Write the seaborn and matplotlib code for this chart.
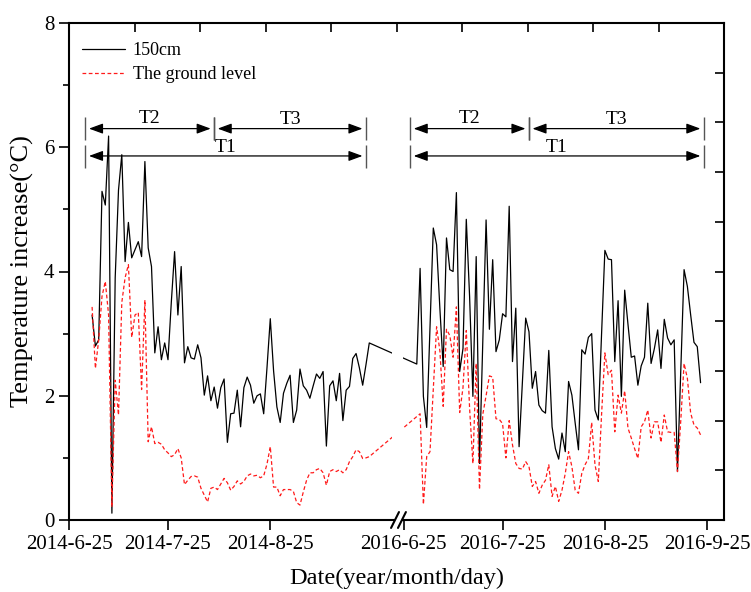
import numpy as np
import pandas as pd
import matplotlib
matplotlib.use("Agg")
import matplotlib.pyplot as plt
import seaborn as sns
from matplotlib.transforms import blended_transform_factory
from matplotlib.ticker import NullLocator

# ---------------------------------------------------------------------------
# Daily temperature increase (°C), two monitoring campaigns
# ---------------------------------------------------------------------------
series_names = ["150cm", "The ground level"]

# 2014 campaign, one reading per day starting 2014-07-02
start_150_2014 = "2014-07-02"
depth150_2014 = [
    3.30, 2.80, 2.90, 5.29, 5.07, 6.18, 0.11, 3.90, 5.31, 5.88,
    4.16, 4.79, 4.22, 4.35, 4.48, 4.24, 5.77, 4.38, 4.08, 2.69,
    3.11, 2.58, 2.85, 2.58, 3.50, 4.32, 3.30, 4.08, 2.53, 2.79,
    2.61, 2.59, 2.82, 2.61, 2.01, 2.32, 1.92, 2.14, 1.80, 2.13,
    2.27, 1.25, 1.71, 1.72, 2.09, 1.50, 2.13, 2.30, 2.17, 1.88,
    2.00, 2.03, 1.71, 2.45, 3.24, 2.40, 1.82, 1.57, 2.04, 2.20,
    2.33, 1.57, 1.77, 2.43, 2.16, 2.09, 1.96, 2.16, 2.35, 2.28,
    2.39, 1.19, 2.16, 2.24, 1.92, 2.36, 1.60, 2.09, 2.15, 2.60,
    2.68, 2.45, 2.17, 2.50, 2.85,
]
start_ground_2014 = "2014-07-02"
ground_2014 = [
    3.43, 2.44, 2.90, 3.60, 3.84, 3.30, 0.21, 2.25, 1.69, 3.50,
    3.90, 4.11, 2.94, 3.30, 3.34, 2.10, 3.54, 1.26, 1.50, 1.23,
    1.25, 1.22, 1.13, 1.08, 1.02, 1.05, 1.15, 1.00, 0.57, 0.64,
    0.70, 0.71, 0.69, 0.51, 0.40, 0.29, 0.51, 0.53, 0.49, 0.58,
    0.67, 0.60, 0.48, 0.54, 0.63, 0.58, 0.62, 0.71, 0.74, 0.71,
    0.72, 0.68, 0.71, 0.90, 1.18, 0.53, 0.53, 0.39, 0.49, 0.49,
    0.49, 0.46, 0.28, 0.24, 0.45, 0.64, 0.76, 0.76, 0.81, 0.83,
    0.76, 0.56, 0.78, 0.81, 0.78, 0.81, 0.76, 0.81, 0.94, 1.02,
    1.13, 1.10, 0.99, 1.00, 1.02,
]

# 2016 campaign
start_150_2016 = "2016-06-29"
depth150_2016 = [
    2.51, 4.05, 1.99, 1.49, 3.10, 4.70, 4.43, 3.40, 2.47, 4.54,
    4.03, 4.00, 5.27, 2.39, 2.76, 4.84, 3.60, 1.99, 4.24, 0.91,
    2.90, 4.83, 3.07, 4.19, 2.71, 2.90, 3.32, 3.27, 5.05, 2.55,
    3.41, 1.18, 2.20, 3.25, 3.03, 2.12, 2.39, 1.85, 1.76, 1.72,
    2.73, 1.50, 1.15, 0.98, 1.40, 1.10, 2.23, 2.01, 1.56, 1.13,
    2.74, 2.67, 2.94, 3.00, 1.77, 1.61, 3.00, 4.34, 4.20, 4.19,
    2.55, 3.53, 1.99, 3.70, 3.15, 2.62, 2.64, 2.17, 2.48, 2.62,
    3.49, 2.52, 2.76, 3.06, 2.44, 3.23, 2.93, 2.82, 2.90, 0.78,
    2.40, 4.03, 3.76, 3.30, 2.86, 2.79, 2.21,
]
start_ground_2016 = "2016-06-30"
ground_2016 = [
    1.71, 0.25, 1.02, 1.10, 2.10, 3.11, 2.72, 1.83, 3.07, 2.97,
    2.62, 3.43, 1.73, 2.13, 3.05, 1.80, 0.91, 2.52, 0.49, 1.70,
    2.00, 2.32, 2.30, 1.63, 1.62, 1.55, 1.00, 1.60, 1.21, 0.91,
    0.83, 0.82, 0.94, 0.86, 0.54, 0.62, 0.43, 0.56, 0.64, 0.89,
    0.38, 0.54, 0.30, 0.48, 0.75, 1.10, 0.86, 0.48, 0.43, 0.75,
    0.89, 0.99, 1.57, 0.89, 0.62, 1.70, 2.69, 2.34, 2.41, 1.42,
    2.01, 1.72, 2.08, 1.48, 1.32, 1.15, 0.99, 1.50, 1.58, 1.77,
    1.32, 1.58, 1.58, 1.25, 1.69, 1.42, 1.41, 1.41, 0.78, 1.60,
    2.52, 2.28, 1.72, 1.53, 1.48, 1.37,
]

tick_dates = ["2014-06-25", "2014-07-25", "2014-08-25",
              "2016-06-25", "2016-07-25", "2016-08-25", "2016-09-25"]
tick_labels = ["2014-6-25", "2014-7-25", "2014-8-25",
               "2016-6-25", "2016-7-25", "2016-8-25", "2016-9-25"]

# Analysis periods (start, end) for each campaign
periods_2014 = {"T2": ("2014-06-30", "2014-08-08"),
                "T3": ("2014-08-08", "2014-09-23"),
                "T1": ("2014-06-30", "2014-09-23")}
periods_2016 = {"T2": ("2016-06-27", "2016-08-02"),
                "T3": ("2016-08-02", "2016-09-24"),
                "T1": ("2016-06-27", "2016-09-24")}

# ---------------------------------------------------------------------------
# Broken date axis: both summers share one axis, the years in between are cut
# ---------------------------------------------------------------------------
ORIGIN_2014 = pd.Timestamp("2014-06-25")
ORIGIN_2016 = pd.Timestamp("2016-06-25")
SEG2_OFFSET = 101.4     # axis position of 2016-06-25
X_MAX = 198.5
GAP = (97.9, 101.2)     # hidden strip at the break
SLASHES = (98.8, 100.9)


def axis_pos(date):
    d = pd.Timestamp(date)
    if d.year == 2014:
        return float((d - ORIGIN_2014).days)
    return SEG2_OFFSET + (d - ORIGIN_2016).days


def daily_frame(start, values, name):
    dates = pd.date_range(start, periods=len(values), freq="D")
    return pd.DataFrame({"date": dates, "temp": values, "depth": name})


df = pd.concat([
    daily_frame(start_150_2014, depth150_2014, series_names[0]),
    daily_frame(start_150_2016, depth150_2016, series_names[0]),
    daily_frame(start_ground_2014, ground_2014, series_names[1]),
    daily_frame(start_ground_2016, ground_2016, series_names[1]),
], ignore_index=True)
df["pos"] = df["date"].map(axis_pos)

# ---------------------------------------------------------------------------
sns.set_theme(style="ticks")
plt.rcParams["font.family"] = ["Liberation Serif", "DejaVu Serif"]
plt.rcParams["axes.linewidth"] = 1.5
plt.rcParams["axes.edgecolor"] = "black"
plt.rcParams["text.color"] = "black"
plt.rcParams["axes.labelcolor"] = "black"

W, H = 751, 592
fig = plt.figure(figsize=(W / 100, H / 100), dpi=100)
rect = [69 / W, 72 / H, 655 / W, 497 / H]
ax = fig.add_axes(rect)

sns.lineplot(
    data=df, x="pos", y="temp", hue="depth", style="depth",
    hue_order=series_names, style_order=series_names,
    palette={series_names[0]: "black", series_names[1]: "#ff1a1a"},
    dashes={series_names[0]: "", series_names[1]: (3, 2)},
    estimator=None, sort=True, linewidth=0.9, ax=ax,
)

ax.set_xlim(0, X_MAX)
ax.set_ylim(0, 8)
ax.set_xticks([axis_pos(d) for d in tick_dates], tick_labels)
ax.xaxis.set_minor_locator(NullLocator())
ax.set_yticks([0, 2, 4, 6, 8])
ax.set_yticks([1, 3, 5, 7], minor=True)
ax.tick_params(axis="both", which="major", direction="out", length=7,
               width=1.2, labelsize=15, colors="black")
ax.tick_params(axis="y", which="minor", direction="out", length=4.5,
               width=1.2, colors="black")
for side in ["top", "right", "bottom", "left"]:
    ax.spines[side].set_visible(True)
    ax.spines[side].set_linewidth(1.5)
    ax.spines[side].set_color("black")

ax.set_xlabel("Date(year/month/day)", fontsize=17.5, labelpad=10)
ax.set_ylabel("Temperature increase(°C)", fontsize=19, labelpad=7)

# legend without frame in the upper left corner
leg = ax.get_legend()
handles = list(leg.legend_handles)
labels = [t.get_text() for t in leg.get_texts()]
for h in handles:
    h.set_linewidth(0.9)
ax.legend(handles, labels, loc="upper left", bbox_to_anchor=(0.02, 0.962),
          frameon=False, fontsize=13, handlelength=2.4, handletextpad=0.4,
          labelspacing=0.42, borderpad=0, borderaxespad=0)

# axis break: blank strip through the data and "//" on the bottom axis
trans = blended_transform_factory(ax.transData, ax.transAxes)
ax.axvspan(GAP[0], GAP[1], color="white", lw=0, zorder=2.2)
ax.plot(list(SLASHES), [0, 0], transform=trans, color="white", lw=4,
        solid_capstyle="butt", clip_on=False, zorder=3)
for xc in SLASHES:
    ax.plot([xc - 1.2, xc + 1.2], [-0.016, 0.016], transform=trans,
            color="black", lw=1.5, clip_on=False, zorder=4)

# period spans T1, T2, T3 for both campaigns
arrow_kw = dict(arrowstyle="<|-|>,head_length=0.6,head_width=0.22",
                color="black", lw=0.9, shrinkA=2.5, shrinkB=2.5,
                mutation_scale=14)
row_y = {"T2": 6.30, "T3": 6.30, "T1": 5.86}
bar_span = {"T2": (6.12, 6.48), "T3": (6.12, 6.48), "T1": (5.67, 6.03)}
label_y = {"T2": 6.47, "T3": 6.45, "T1": 5.99}
for periods in (periods_2014, periods_2016):
    for name, (p0, p1) in periods.items():
        x0, x1 = axis_pos(p0), axis_pos(p1)
        y = row_y[name]
        ax.vlines([x0, x1], *bar_span[name], color="#555555", lw=1.0,
                  zorder=3)
        ax.annotate("", xy=(x1, y), xytext=(x0, y), arrowprops=arrow_kw,
                    zorder=3)
        ax.text((x0 + x1) / 2, label_y[name], name, ha="center",
                va="center", fontsize=14, zorder=3)

# inner ticks on the top and right frame
ov = fig.add_axes(rect, facecolor="none")
ov.set_xlim(0, 1)
ov.set_ylim(0, 1)
ov.set_frame_on(False)
ov.xaxis.set_ticks_position("top")
ov.yaxis.set_ticks_position("right")
ov.set_xticks(np.arange(1, 10) / 10)
ov.set_yticks(np.arange(1, 10) / 10)
ov.tick_params(direction="in", length=6.5, width=1.2, colors="black",
               labeltop=False, labelright=False, labelbottom=False,
               labelleft=False)

fig.savefig("out.png", dpi=100)
